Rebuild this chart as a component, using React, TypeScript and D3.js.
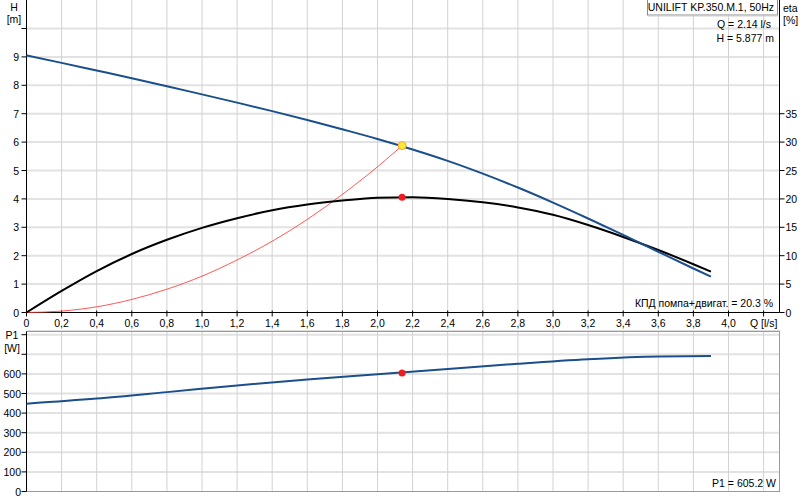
import React from "react";
import * as d3 from "d3";

const pumpName = "UNILIFT KP.350.M.1, 50Hz";
const flowQ = [0, 0.2, 0.4, 0.6, 0.8, 1.0, 1.2, 1.4, 1.6, 1.8, 2.0, 2.2, 2.4, 2.6, 2.8, 3.0, 3.2, 3.4, 3.6, 3.8, 3.9];
const headH = [9.05, 8.79, 8.52, 8.25, 7.97, 7.68, 7.39, 7.09, 6.78, 6.45, 6.11, 5.74, 5.34, 4.89, 4.40, 3.87, 3.31, 2.73, 2.14, 1.55, 1.26];
const etaPct = [0, 3.8, 7.3, 10.3, 12.8, 14.9, 16.6, 18.0, 19.0, 19.7, 20.2, 20.3, 20.0, 19.4, 18.5, 17.2, 15.4, 13.3, 11.0, 8.5, 7.2];
const systemQ = [0, 0.2, 0.4, 0.6, 0.8, 1.0, 1.2, 1.4, 1.6, 1.8, 2.0, 2.14];
const systemH = [0, 0.05, 0.2, 0.46, 0.82, 1.28, 1.85, 2.51, 3.28, 4.16, 5.13, 5.877];
const powerQ = [0, 0.4, 0.8, 1.2, 1.6, 2.0, 2.4, 2.8, 3.2, 3.6, 3.9];
const powerP1 = [448, 474, 507, 541, 572, 598, 625, 652, 675, 689, 691];
const opQ = 2.14;
const opH = 5.877;
const opEta = 20.3;
const opP1 = 605.2;
const xTicks = [0, 0.2, 0.4, 0.6, 0.8, 1.0, 1.2, 1.4, 1.6, 1.8, 2.0, 2.2, 2.4, 2.6, 2.8, 3.0, 3.2, 3.4, 3.6, 3.8, 4.0, 4.2];
const hTicks = [0, 1, 2, 3, 4, 5, 6, 7, 8, 9, 10];
const hLabels = [0, 1, 2, 3, 4, 5, 6, 7, 8, 9];
const etaLabels = [0, 5, 10, 15, 20, 25, 30, 35];
const pTicks = [0, 100, 200, 300, 400, 500, 600, 700, 800];
const pLabels = [0, 100, 200, 300, 400, 500, 600];

const FONT = "'Liberation Sans', Arial, sans-serif";

export default function App() {
  const L = 26.5, R = 779.5;
  const x = d3.scaleLinear().domain([0, (R - L) / 175.5]).range([L, R]);
  const yH = d3.scaleLinear().domain([0, 11]).range([312.5, 312.5 - 11 * 28.4]);
  const yEta = d3.scaleLinear().domain([0, 55]).range([312.5, 312.5 - 11 * 28.4]);
  const yP = d3.scaleLinear().domain([0, 800]).range([491.5, 491.5 - 8 * 19.6]);
  const pTop = 331.5;

  const lineH = d3.line<number>().x((d, i) => x(flowQ[i])).y((d) => yH(d)).curve(d3.curveMonotoneX);
  const lineEta = d3.line<number>().x((d, i) => x(flowQ[i])).y((d) => yEta(d)).curve(d3.curveMonotoneX);
  const lineSys = d3.line<number>().x((d, i) => x(systemQ[i])).y((d) => yH(d)).curve(d3.curveMonotoneX);
  const lineP = d3.line<number>().x((d, i) => x(powerQ[i])).y((d) => yP(d)).curve(d3.curveMonotoneX);

  const fmt = (v: number) => (v === 0 ? "0" : v.toFixed(1).replace(".", ","));
  const gridH = "#e2e2e2";
  const gridV = "#d2d2d2";
  const blue = "#1b4f8c";

  return (
    <svg width={803} height={500} style={{ position: "absolute", left: 0, top: 0, background: "#fff" }} fontFamily={FONT} fontSize={10.5}>
      {/* top panel grid */}
      {hTicks.filter((t) => t > 0).map((t) => (
        <line key={"gh" + t} x1={L} x2={R} y1={yH(t)} y2={yH(t)} stroke={gridH} strokeWidth={2} />
      ))}
      {xTicks.filter((t) => t > 0).map((t) => (
        <line key={"gv" + t} x1={x(t)} x2={x(t)} y1={0} y2={yH(0)} stroke={gridV} strokeWidth={1} />
      ))}
      {/* bottom panel grid */}
      {pTicks.filter((t) => t > 0).map((t) => (
        <line key={"pgh" + t} x1={L} x2={R} y1={yP(t)} y2={yP(t)} stroke={gridH} strokeWidth={2} />
      ))}
      {xTicks.filter((t) => t > 0).map((t) => (
        <line key={"pgv" + t} x1={x(t)} x2={x(t)} y1={pTop} y2={yP(0)} stroke={gridV} strokeWidth={1} />
      ))}
      <rect x={L} y={pTop} width={R - L} height={yP(0) - pTop} fill="none" stroke="#9a9a9a" strokeWidth={1} />
      <line x1={L + 1} x2={R + 1} y1={pTop - 1} y2={pTop - 1} stroke="#dcdcdc" />

      {/* top axes */}
      <line x1={L} x2={L} y1={0} y2={yH(0)} stroke="#000" />
      <line x1={R} x2={R} y1={0} y2={yH(0)} stroke="#000" />
      <line x1={L} x2={R} y1={yH(0)} y2={yH(0)} stroke="#000" />
      {hTicks.map((t) => (
        <line key={"th" + t} x1={L - 5} x2={L} y1={yH(t)} y2={yH(t)} stroke="#000" />
      ))}
      {hLabels.map((t) => (
        <text key={"lh" + t} x={19} y={yH(t) + 4} textAnchor="end" fill="#000">{t}</text>
      ))}
      {etaLabels.map((t) => (
        <g key={"te" + t}>
          <line x1={R} x2={R + 5} y1={yEta(t)} y2={yEta(t)} stroke="#000" />
          <text x={R + 6} y={yEta(t) + 4} fill="#000">{t}</text>
        </g>
      ))}
      {xTicks.map((t) => (
        <line key={"tx" + t} x1={x(t)} x2={x(t)} y1={yH(0) - 2} y2={yH(0) + 4} stroke="#000" />
      ))}
      {xTicks.filter((t) => t < 4.1).map((t) => (
        <text key={"lx" + t} x={x(t)} y={327} textAnchor="middle" fill="#000">{fmt(t)}</text>
      ))}
      <text x={x(4.2)} y={327} textAnchor="middle" fill="#000">Q [l/s]</text>
      <text x={14} y={11} textAnchor="middle" fill="#000">H</text>
      <text x={14} y={23} textAnchor="middle" fill="#000">[m]</text>
      <text x={783} y={12} fill="#000">eta</text>
      <text x={783} y={24} fill="#000">[%]</text>

      {/* bottom axes */}
      <line x1={L} x2={L} y1={pTop} y2={yP(0)} stroke="#000" />
      {pTicks.map((t) => (
        <line key={"tp" + t} x1={L - 5} x2={L} y1={yP(t)} y2={yP(t)} stroke="#000" />
      ))}
      {pLabels.map((t) => (
        <text key={"lp" + t} x={21} y={yP(t) + 4} textAnchor="end" fill="#000">{t}</text>
      ))}
      <text x={12} y={339} textAnchor="middle" fill="#000">P1</text>
      <text x={12} y={352} textAnchor="middle" fill="#000">[W]</text>

      {/* curves */}
      <path d={lineSys(systemH) || ""} fill="none" stroke="#ff3b3b" strokeWidth={1} opacity={0.85} />
      <path d={lineEta(etaPct) || ""} fill="none" stroke="#000" strokeWidth={2} />
      <path d={lineH(headH) || ""} fill="none" stroke={blue} strokeWidth={2} />
      <path d={lineP(powerP1) || ""} fill="none" stroke={blue} strokeWidth={2} />

      {/* operating points */}
      <circle cx={x(opQ)} cy={yH(opH)} r={4} fill="#ffe83a" stroke="#f5a623" strokeWidth={1} />
      <circle cx={x(opQ)} cy={yEta(opEta)} r={3.5} fill="#ee1c1c" />
      <circle cx={x(opQ)} cy={yP(opP1)} r={3.5} fill="#ee1c1c" />

      {/* legend / annotations */}
      <rect x={647.5} y={-1} width={130} height={16} fill="#fff" stroke="#8a8a8a" />
      <line x1={648} x2={778} y1={16} y2={16} stroke="#d0d0d0" />
      <text x={774} y={11} textAnchor="end" fill="#000">{pumpName}</text>
      <text x={771} y={28} textAnchor="end" fill="#000">{`Q = ${opQ.toFixed(2)} l/s`}</text>
      <text x={774} y={42} textAnchor="end" fill="#000">{`H = ${opH.toFixed(3)} m`}</text>
      <text x={773} y={307} textAnchor="end" fill="#000">{`КПД помпа+двигат. = ${opEta.toFixed(1)} %`}</text>
      <text x={776} y={487} textAnchor="end" fill="#000">{`P1 = ${opP1.toFixed(1)} W`}</text>
    </svg>
  );
}
